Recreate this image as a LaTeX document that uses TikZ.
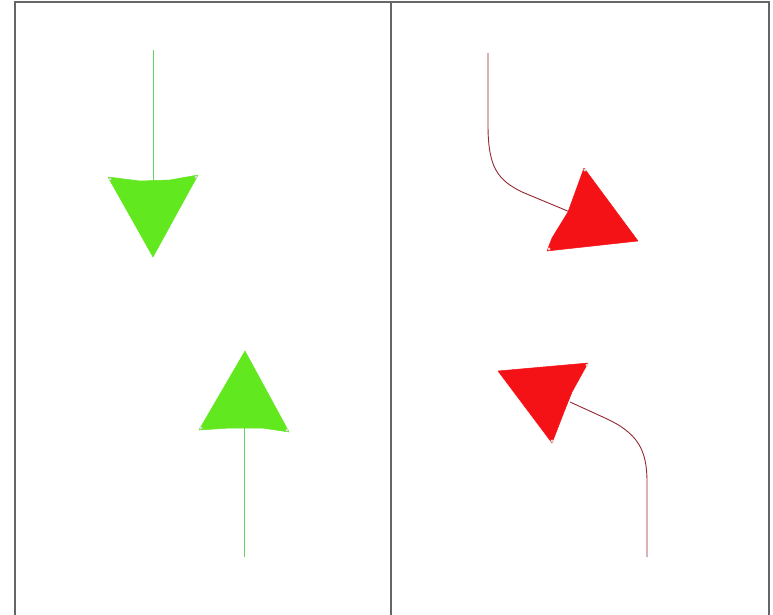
\documentclass[tikz,border=0pt]{standalone}
\begin{document}
\begin{tikzpicture}[x=1pt,y=-1pt,
  frame/.style={draw=black!60,line width=1.3pt},
  gline/.style={draw=green!70!black!60!white,line width=0.9pt},
  rline/.style={draw={rgb,255:red,150;green,40;blue,50},line width=0.9pt},
  ghead/.style={fill={rgb,255:red,98;green,232;blue,30},draw={rgb,255:red,98;green,232;blue,30},line width=0.5pt,line join=round},
  rhead/.style={fill={rgb,255:red,245;green,18;blue,22},draw={rgb,255:red,245;green,18;blue,22},line width=0.5pt,line join=round},
  dot/.style={fill=white,draw=gray!50,line width=0.3pt}]
\useasboundingbox (0,0) rectangle (773,615);
\fill[white] (0,0) rectangle (773,615);
% frame
\draw[frame] (15,615) -- (15,2) -- (769,2) -- (769,615);
\draw[frame] (391,2) -- (391,615);
% green top
\coordinate (g1s) at (153,50);
\coordinate (g1e) at (153,181);
\draw[gline] (g1s) -- (g1e);
\filldraw[ghead] (108,177) -- (140,181) -- (170,180) -- (198,175) -- (153,257) -- cycle;
\filldraw[dot] (110,179) circle (1.3);
\filldraw[dot] (196,177) circle (1.3);
% green bottom
\coordinate (g2s) at (244,557);
\coordinate (g2e) at (244,428);
\draw[gline] (g2s) -- (g2e);
\filldraw[ghead] (245,351) -- (289,432) -- (262,428) -- (230,428) -- (199,430) -- cycle;
\filldraw[dot] (201,428) circle (1.3);
\filldraw[dot] (287,430) circle (1.3);
% red top
\coordinate (r1s) at (488,53);
\coordinate (r1m) at (522,192);
\coordinate (r1e) at (570,212);
\draw[rline] (r1s) -- (488,125) .. controls (488,168) and (498,180) .. (r1m) -- (r1e);
\filldraw[rhead] (584,168) -- (638,241) -- (547,251) -- (552,238) -- (568,212) -- cycle;
\filldraw[dot] (585,170) circle (1.3);
\filldraw[dot] (549,249) circle (1.3);
% red bottom
\coordinate (r2s) at (647,557);
\coordinate (r2m) at (605,418);
\coordinate (r2e) at (570,402);
\draw[rline] (r2s) -- (647,482) .. controls (647,450) and (638,433) .. (r2m) -- (r2e);
\filldraw[rhead] (498,371) -- (588,363) -- (572,392) -- (564,412) -- (552,443) -- cycle;
\filldraw[dot] (587,365) circle (1.3);
\filldraw[dot] (552,441) circle (1.3);
\end{tikzpicture}
\end{document}
